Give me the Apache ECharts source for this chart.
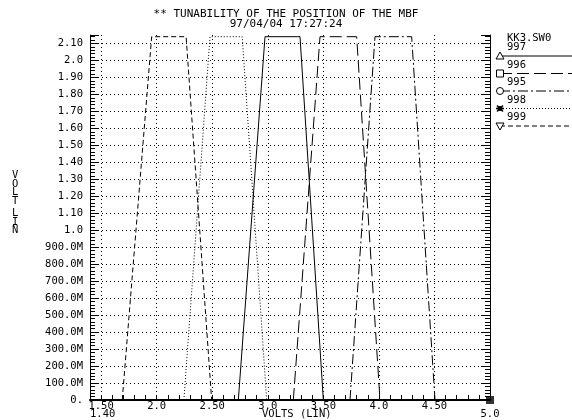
<!DOCTYPE html>
<html>
<head>
<meta charset="utf-8">
<script src="https://cdn.jsdelivr.net/npm/echarts@6/dist/echarts.min.js"></script>
<style>
html, body { margin: 0; padding: 0; background: #fff; }
#chart { width: 572px; height: 420px; }
</style>
</head>
<body>
<div id="chart"></div>
<script>
// sweep values, legend order
const seriesNames = ["997", "996", "995", "998", "999"];

// corner voltages of each trace: foot, shoulder, shoulder, foot
const x997 = [2.735, 2.975, 3.29, 3.5];
const x996 = [3.23, 3.47, 3.8, 4.01];
const x995 = [3.74, 3.965, 4.295, 4.505];
const x998 = [2.245, 2.48, 2.77, 2.99];
const x999 = [1.69, 1.955, 2.265, 2.495];
// output level at those corners
const yLevel = [0, 2.14, 2.14, 0];

// tick labels (first row under the axis, then the end labels on the second row)
const xTickValues = [1.5, 2.0, 2.5, 3.0, 3.5, 4.0, 4.5];
const xTickLabels = ["1.50", "2.0", "2.50", "3.0", "3.50", "4.0", "4.50"];
const xEndValues = [1.4, 5.0];
const xEndLabels = ["1.40", "5.0"];
const yTickValues = [0, 0.1, 0.2, 0.3, 0.4, 0.5, 0.6, 0.7, 0.8, 0.9, 1.0,
   1.1, 1.2, 1.3, 1.4, 1.5, 1.6, 1.7, 1.8, 1.9, 2.0, 2.1];
const yTickLabels = ["0.", "100.0M", "200.0M", "300.0M", "400.0M", "500.0M", "600.0M",
   "700.0M", "800.0M", "900.0M", "1.0", "1.10", "1.20", "1.30", "1.40", "1.50", "1.60",
   "1.70", "1.80", "1.90", "2.0", "2.10"];
const xGrid = [1.5, 2.0, 2.5, 3.0, 3.5, 4.0, 4.5];
const endMark = [[5.0, 0]];

const traceX = { "997": x997, "996": x996, "995": x995, "998": x998, "999": x999 };
const dashes = { "997": "solid", "996": [12, 5], "995": [10, 3, 2, 3], "998": [1, 2], "999": [5, 3] };

const FONT = "DejaVu Sans Mono";

function pickLabel(values, labels, v) {
   for (let i = 0; i < values.length; i++) {
      if (Math.abs(values[i] - v) < 1e-6) return labels[i];
   }
   return "";
}

const myChart = echarts.init(document.getElementById("chart"), null, { renderer: "canvas" });

// legend drawn by hand: name above, marker + line below
const legendX = 500;
const legendChildren = [
   { type: "text", style: { x: 507, y: 33, text: "KK3.SW0", font: "10.5px " + FONT, fill: "#000" } }
];
seriesNames.forEach((name, i) => {
   const ly = 56 + i * 17.5;
   legendChildren.push({ type: "text", style: { x: 507, y: ly - 14, text: name, font: "10.5px " + FONT, fill: "#000" } });
   legendChildren.push({
      type: "line",
      shape: { x1: legendX, y1: ly, x2: 572, y2: ly },
      style: { stroke: "#000", lineWidth: 1, lineDash: dashes[name] === "solid" ? null : dashes[name] }
   });
   const st = { stroke: "#000", fill: "#fff", lineWidth: 1 };
   if (name === "997") {
      legendChildren.push({ type: "polygon", shape: { points: [[legendX - 4, ly + 3], [legendX + 4, ly + 3], [legendX, ly - 4]] }, style: st });
   } else if (name === "996") {
      legendChildren.push({ type: "rect", shape: { x: legendX - 3.5, y: ly - 3.5, width: 7, height: 7 }, style: st });
   } else if (name === "995") {
      legendChildren.push({ type: "circle", shape: { cx: legendX, cy: ly, r: 3.5 }, style: st });
   } else if (name === "998") {
      legendChildren.push({ type: "circle", shape: { cx: legendX, cy: ly, r: 2.5 }, style: { fill: "#000" } });
      legendChildren.push({ type: "line", shape: { x1: legendX - 4, y1: ly, x2: legendX + 4, y2: ly }, style: { stroke: "#000", lineWidth: 1.5 } });
      legendChildren.push({ type: "line", shape: { x1: legendX - 3, y1: ly - 3, x2: legendX + 3, y2: ly + 3 }, style: { stroke: "#000", lineWidth: 1.5 } });
      legendChildren.push({ type: "line", shape: { x1: legendX - 3, y1: ly + 3, x2: legendX + 3, y2: ly - 3 }, style: { stroke: "#000", lineWidth: 1.5 } });
   } else {
      legendChildren.push({ type: "polygon", shape: { points: [[legendX - 4, ly - 3], [legendX + 4, ly - 3], [legendX, ly + 4]] }, style: st });
   }
});

const series = seriesNames.map((name) => ({
   name: name,
   type: "line",
   symbol: "none",
   silent: true,
   lineStyle: { color: "#000", width: 1, type: dashes[name] },
   data: traceX[name].map((v, i) => [v, yLevel[i]]),
}));

// vertical dotted grid
series.push({
   type: "line",
   data: [],
   silent: true,
   markLine: {
      silent: true,
      symbol: ["none", "none"],
      label: { show: false },
      lineStyle: { color: "#000", width: 1, type: [1, 3] },
      data: xGrid.map((v) => ({ xAxis: v })),
   },
});

// filled square at the end of the x axis
series.push({
   type: "scatter",
   symbol: "rect",
   symbolSize: 8,
   silent: true,
   itemStyle: { color: "#000" },
   data: endMark,
});

const yAxisBase = {
   type: "value",
   min: 0,
   max: 2.15,
   interval: 0.1,
   axisLine: { show: true, lineStyle: { color: "#000", width: 1 } },
   axisTick: { show: true, inside: true, length: 9, lineStyle: { color: "#000" } },
   minorTick: { show: true, splitNumber: 5, length: 5, lineStyle: { color: "#000", width: 1 } },
};

const labelFont = { color: "#000", fontFamily: FONT, fontSize: 10.5 };

const option = {
   backgroundColor: "#fff",
   animation: false,
   title: {
      text: "** TUNABILITY OF THE POSITION OF THE MBF",
      subtext: "97/04/04 17:27:24",
      left: "center",
      top: 4,
      itemGap: -1,
      textStyle: { fontFamily: FONT, fontSize: 11, fontWeight: "normal", color: "#000", lineHeight: 10 },
      subtextStyle: { fontFamily: FONT, fontSize: 11, color: "#000", lineHeight: 10 },
   },
   grid: { left: 90, right: 82, top: 35, bottom: 20, containLabel: false },
   xAxis: [
      {
         type: "value",
         min: 1.4,
         max: 5.0,
         interval: 0.1,
         axisLine: { show: true, onZero: false, lineStyle: { color: "#000", width: 2 } },
         axisTick: { show: true, inside: true, length: 5, lineStyle: { color: "#000" } },
         splitLine: { show: false },
         axisLabel: Object.assign({
            show: true,
            margin: 2,
            lineHeight: 9,
            formatter: (v) => pickLabel(xTickValues, xTickLabels, v),
         }, labelFont),
      },
      {
         // second label row: only the two ends of the range
         type: "value",
         position: "bottom",
         min: 1.4,
         max: 5.0,
         interval: 3.6,
         axisLine: { show: false, onZero: false },
         axisTick: { show: false },
         splitLine: { show: false },
         axisLabel: Object.assign({
            show: true,
            showMinLabel: true,
            showMaxLabel: true,
            margin: 10,
            lineHeight: 9,
            alignMinLabel: "left",
            formatter: (v) => pickLabel(xEndValues, xEndLabels, v),
         }, labelFont),
      },
   ],
   yAxis: [
      Object.assign({}, yAxisBase, {
         position: "left",
         splitLine: {
            show: true,
            showMinLine: false,
            showMaxLine: false,
            lineStyle: { color: "#000", width: 1, type: [1, 3] },
         },
         axisLabel: Object.assign({
            show: true,
            margin: 7,
            formatter: (v) => pickLabel(yTickValues, yTickLabels, v),
         }, labelFont),
      }),
      Object.assign({}, yAxisBase, {
         position: "right",
         splitLine: { show: false },
         axisLabel: { show: false },
      }),
   ],
   graphic: [
      { type: "group", silent: true, children: legendChildren },
      { type: "text", left: 12, top: 170, silent: true, style: { text: "V\nO\nL\nT", font: "10.5px " + FONT, fill: "#000", lineHeight: 8.5 } },
      { type: "text", left: 12, top: 208, silent: true, style: { text: "L\nI\nN", font: "10.5px " + FONT, fill: "#000", lineHeight: 8.5 } },
      { type: "text", left: 262, top: 409, silent: true, style: { text: "VOLTS (LIN)", font: "10.5px " + FONT, fill: "#000" } },
   ],
   series: series,
};

myChart.setOption(option);
window.addEventListener("resize", () => myChart.resize());
</script>
</body>
</html>
